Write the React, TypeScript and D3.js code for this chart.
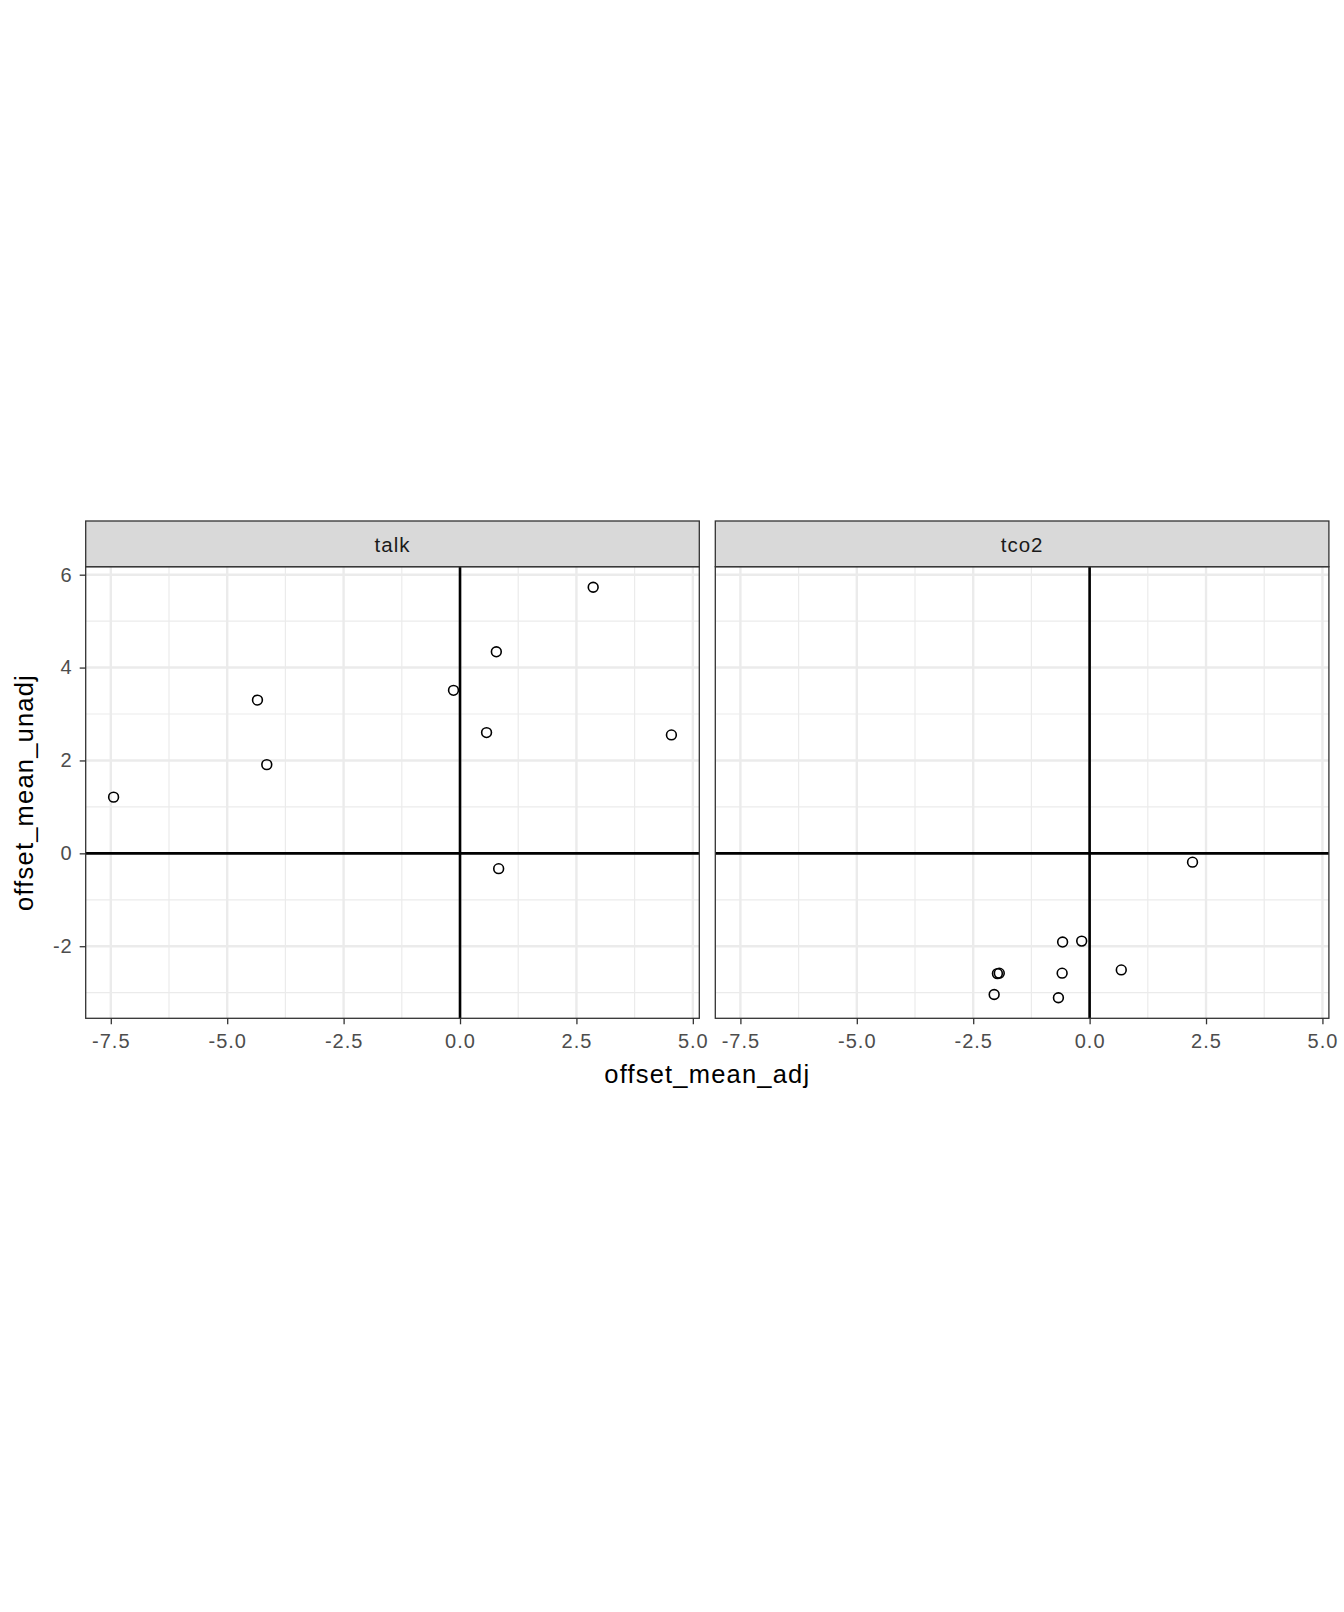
import React, { useEffect, useRef } from "react";
import * as d3 from "d3";

type Pt = { x: number; y: number };

// facet names
const panels = ["talk", "tco2"];

// points
const talkX = [-7.44, -4.35, -4.15, -0.14, 0.78, 0.57, 2.86, 4.54, 0.83];
const talkY = [1.21, 3.3, 1.91, 3.51, 4.34, 2.6, 5.73, 2.55, -0.33];
const tco2X = [-0.58, -0.17, -1.98, -1.94, -0.59, 0.68, -2.05, -0.67, 2.21];
const tco2Y = [-1.91, -1.89, -2.59, -2.58, -2.58, -2.51, -3.04, -3.11, -0.19];

const xTicks = [-7.5, -5.0, -2.5, 0.0, 2.5, 5.0];
const xMinor = [-6.25, -3.75, -1.25, 1.25, 3.75];
const yTicks = [-2, 0, 2, 4, 6];
const yMinor = [-3, -1, 1, 3, 5];

const xTitle = "offset_mean_adj";
const yTitle = "offset_mean_unadj";

const W = 1344;
const H = 1612;
const font = "'Liberation Sans', Arial, sans-serif";

const toPts = (xs: number[], ys: number[]): Pt[] => xs.map((x, i) => ({ x, y: ys[i] }));
// plain hyphen instead of d3's unicode minus
const fmtX = (d: d3.NumberValue) => d3.format(".1f")(d).replace("\u2212", "-");
const fmtY = (d: d3.NumberValue) => d3.format("d")(d).replace("\u2212", "-");

const App = () => {
  const ref = useRef<HTMLDivElement>(null);

  useEffect(() => {
    d3.select(ref.current).selectAll("*").remove();

    const data = [toPts(talkX, talkY), toPts(tco2X, tco2Y)];
    const all = data.flat();

    // ggplot-like 5% expansion
    const expand = (ext: [number, number]): [number, number] => {
      const pad = (ext[1] - ext[0]) * 0.05;
      return [ext[0] - pad, ext[1] + pad];
    };
    const xDom = expand(d3.extent(all, (d) => d.x) as [number, number]);
    const yDom = expand(d3.extent(all, (d) => d.y) as [number, number]);

    const panelW = 613.6;
    const panelLefts = [85.7, 715.3];
    const stripTop = 521;
    const stripH = 45.7;
    const panelTop = stripTop + stripH;
    const panelBottom = 1018.3;

    const y = d3.scaleLinear().domain(yDom).range([panelBottom, panelTop]);

    const svg = d3
      .select(ref.current)
      .append("svg")
      .attr("width", W)
      .attr("height", H)
      .style("position", "absolute")
      .style("left", "0px")
      .style("top", "0px")
      .style("background", "#fff")
      .style("font-family", font);

    panels.forEach((name, pi) => {
      const left = panelLefts[pi];
      const x = d3.scaleLinear().domain(xDom).range([left, left + panelW]);
      const g = svg.append("g");

      g.append("rect")
        .attr("x", left)
        .attr("y", panelTop)
        .attr("width", panelW)
        .attr("height", panelBottom - panelTop)
        .attr("fill", "#fff");

      // minor grid
      g.selectAll(".xmin")
        .data(xMinor)
        .join("line")
        .attr("x1", (d) => x(d))
        .attr("x2", (d) => x(d))
        .attr("y1", panelTop)
        .attr("y2", panelBottom)
        .attr("stroke", "#EBEBEB")
        .attr("stroke-width", 1.2);
      g.selectAll(".ymin")
        .data(yMinor)
        .join("line")
        .attr("x1", left)
        .attr("x2", left + panelW)
        .attr("y1", (d) => y(d))
        .attr("y2", (d) => y(d))
        .attr("stroke", "#EBEBEB")
        .attr("stroke-width", 1.2);

      // major grid
      g.selectAll(".xmaj")
        .data(xTicks)
        .join("line")
        .attr("x1", (d) => x(d))
        .attr("x2", (d) => x(d))
        .attr("y1", panelTop)
        .attr("y2", panelBottom)
        .attr("stroke", "#EBEBEB")
        .attr("stroke-width", 2.4);
      g.selectAll(".ymaj")
        .data(yTicks)
        .join("line")
        .attr("x1", left)
        .attr("x2", left + panelW)
        .attr("y1", (d) => y(d))
        .attr("y2", (d) => y(d))
        .attr("stroke", "#EBEBEB")
        .attr("stroke-width", 2.4);

      // zero lines
      g.append("line")
        .attr("x1", left)
        .attr("x2", left + panelW)
        .attr("y1", y(0))
        .attr("y2", y(0))
        .attr("stroke", "#000")
        .attr("stroke-width", 2.6);
      g.append("line")
        .attr("x1", x(0))
        .attr("x2", x(0))
        .attr("y1", panelTop)
        .attr("y2", panelBottom)
        .attr("stroke", "#000")
        .attr("stroke-width", 2.6);

      // points
      g.selectAll("circle")
        .data(data[pi])
        .join("circle")
        .attr("cx", (d) => x(d.x))
        .attr("cy", (d) => y(d.y))
        .attr("r", 4.9)
        .attr("fill", "none")
        .attr("stroke", "#000")
        .attr("stroke-width", 1.6);

      // panel border
      g.append("rect")
        .attr("x", left)
        .attr("y", panelTop)
        .attr("width", panelW)
        .attr("height", panelBottom - panelTop)
        .attr("fill", "none")
        .attr("stroke", "#333333")
        .attr("stroke-width", 1.3);

      // strip
      g.append("rect")
        .attr("x", left)
        .attr("y", stripTop)
        .attr("width", panelW)
        .attr("height", stripH)
        .attr("fill", "#D9D9D9")
        .attr("stroke", "#333333")
        .attr("stroke-width", 1.3);
      g.append("text")
        .attr("x", left + panelW / 2)
        .attr("y", stripTop + 30.7)
        .attr("text-anchor", "middle")
        .attr("font-size", 20.5)
        .attr("letter-spacing", 1)
        .attr("fill", "#1A1A1A")
        .text(name);

      // x axis
      const xAxis = g
        .append("g")
        .attr("transform", `translate(0,${panelBottom})`)
        .call(
          d3
            .axisBottom(x)
            .tickValues(xTicks)
            .tickFormat(fmtX)
            .tickSize(6)
            .tickPadding(10)
        );
      xAxis.select(".domain").remove();
      xAxis.selectAll("line").attr("stroke", "#333333").attr("stroke-width", 1.3);
      xAxis
        .selectAll("text")
        .attr("fill", "#4D4D4D")
        .attr("font-size", 20)
        .attr("letter-spacing", 1)
        .attr("font-family", font);

      // y axis only on first panel
      if (pi === 0) {
        const yAxis = g
          .append("g")
          .attr("transform", `translate(${left},0)`)
          .call(d3.axisLeft(y).tickValues(yTicks).tickFormat(fmtY).tickSize(6).tickPadding(7));
        yAxis.select(".domain").remove();
        yAxis.selectAll("line").attr("stroke", "#333333").attr("stroke-width", 1.3);
        yAxis
          .selectAll("text")
          .attr("fill", "#4D4D4D")
          .attr("font-size", 20)
          .attr("letter-spacing", 1)
          .attr("font-family", font);
      }
    });

    // axis titles
    svg.append("text")
      .attr("x", (panelLefts[0] + panelLefts[1] + panelW) / 2)
      .attr("y", 1083)
      .attr("text-anchor", "middle")
      .attr("font-size", 25.5)
      .attr("letter-spacing", 1.2)
      .attr("fill", "#000")
      .text(xTitle);

    svg.append("text")
      .attr("transform", `translate(33,${(panelTop + panelBottom) / 2}) rotate(-90)`)
      .attr("text-anchor", "middle")
      .attr("font-size", 25.5)
      .attr("letter-spacing", 1.2)
      .attr("fill", "#000")
      .text(yTitle);
  }, []);

  return <div ref={ref}></div>;
};

export default App;
